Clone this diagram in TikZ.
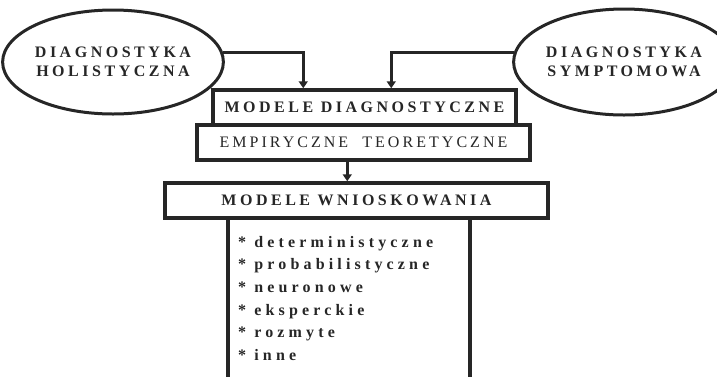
\documentclass[tikz,border=0pt]{standalone}
\usepackage{fontspec}
\setmainfont{Liberation Serif}
\newfontfamily\spc[LetterSpace=22]{Liberation Serif}
\newfontfamily\spcl[LetterSpace=26]{Liberation Serif}
\newfontfamily\spcr[LetterSpace=19]{Liberation Serif}
\usetikzlibrary{arrows.meta,shapes.geometric,calc}
\begin{document}
\begin{tikzpicture}[x=1pt,y=-1pt,
  ink/.style={draw=black!85, line width=3.5pt},
  oval/.style={ellipse, ink, line width=3pt, minimum width=200pt, minimum height=104pt, inner sep=0pt, align=center,
    font=\spc\bfseries\fontsize{16}{19}\selectfont, text=black!85},
  boxx/.style={rectangle, ink, fill=white, inner sep=0pt, text=black!85},
  bt/.style={font=\spc\bfseries\fontsize{16}{17}\selectfont},
  arr/.style={draw=black!85, line width=3pt, -{Triangle[width=9pt,length=7pt]}},
  listtxt/.style={align=left, inner sep=0pt, anchor=north west, text=black!85,
    font=\spcl\bfseries\fontsize{16}{22.6}\selectfont}]
\useasboundingbox (0,0) rectangle (717,376);
\node[oval] (L) at (113,62) {DIAGNOSTYKA\\HOLISTYCZNA};
\node[oval, minimum width=190pt, minimum height=106pt] (R) at (624,62) {DIAGNOSTYKA\\SYMPTOMOWA};
\node[boxx, bt, minimum width=303pt, minimum height=35pt] (B1) at (364.5,107.5) {MODELE DIAGNOSTYCZNE};
\node[boxx, minimum width=333pt, minimum height=35pt, font=\spcr\fontsize{16}{17}\selectfont] (B2) at (363.5,142.5) {EMPIRYCZNE\ \ TEORETYCZNE};
\node[boxx, bt, minimum width=383pt, minimum height=35pt] (B3) at (356.5,200.5) {MODELE WNIOSKOWANIA};
\coordinate (LL) at (228,380);
\coordinate (LR) at (470,380);
\draw[ink] (LL) -- (LL |- B3.south);
\draw[ink] (LR) -- (LR |- B3.south);
\node[listtxt] (T) at (238,236) {* deterministyczne\\* probabilistyczne\\* neuronowe\\* eksperckie\\* rozmyte\\* inne};
\coordinate (a1) at ($(B1.north west)+(92,0)$);
\coordinate (a2) at ($(B1.north west)+(180,0)$);
\draw[arr] (L.5) -| (a1);
\draw[arr] (R.175) -| (a2);
\coordinate (a3) at ($(B2.south west)+(152,0)$);
\draw[arr] (a3) -- (a3 |- B3.north);
\end{tikzpicture}
\end{document}
